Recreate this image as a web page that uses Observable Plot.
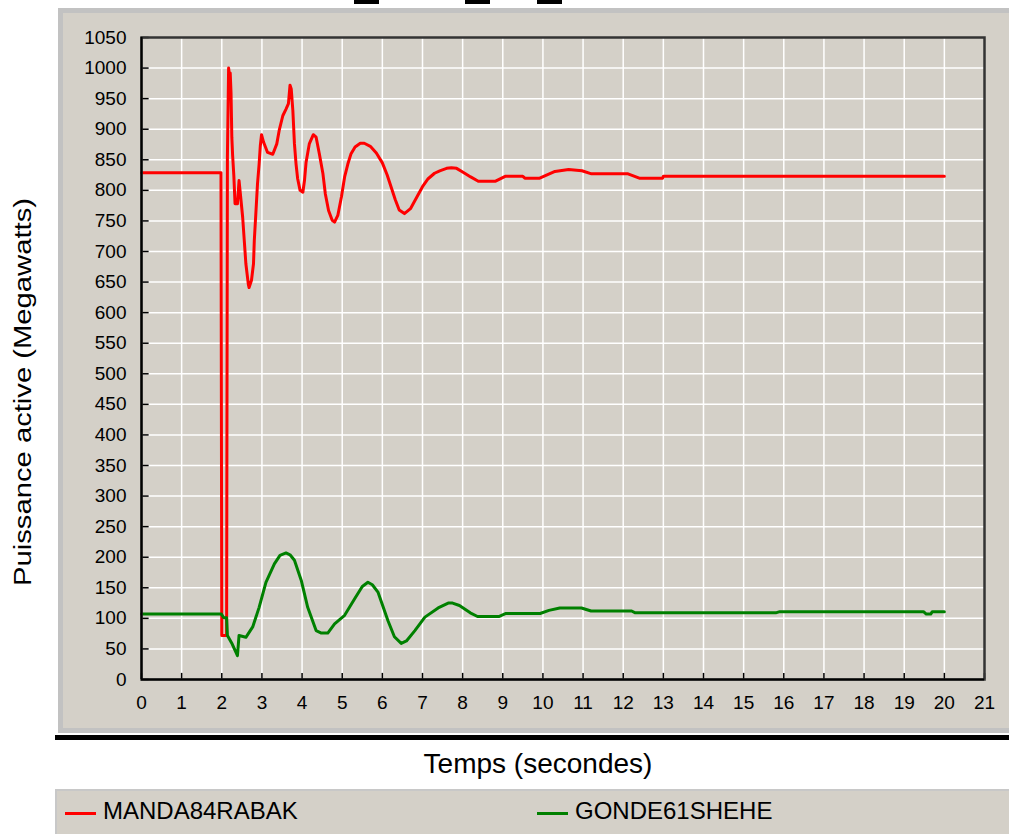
<!DOCTYPE html>
<html>
<head>
<meta charset="utf-8">
<script src="https://cdn.jsdelivr.net/npm/d3@7"></script>
<script src="https://cdn.jsdelivr.net/npm/@observablehq/plot@0.6"></script>
<style>
  html, body { margin: 0; padding: 0; background: #ffffff; }
  body { width: 1009px; height: 834px; position: relative; overflow: hidden; font-family: "Liberation Sans", Arial, sans-serif; color: #000; }
  .dash { position: absolute; top: 0; height: 4px; background: #000; }
  #panel { position: absolute; left: 58px; top: 8px; border-left: 5px solid #c2c2c2; border-top: 5px solid #c2c2c2; border-bottom: 5px solid #c2c2c2; background: #d4d0c8; }
  #panel svg { display: block; }
  #blackline { position: absolute; left: 55px; top: 735px; width: 954px; height: 5px; background: #000; }
  #ytitle { position: absolute; left: 23px; top: 392px; font-size: 23px; line-height: 23px; white-space: nowrap; transform: translate(-50%, -50%) rotate(-90deg) scale(1.27, 1); }
  #xtitle { position: absolute; left: 0; width: 1076px; top: 750px; font-size: 28px; line-height: 28px; text-align: center; white-space: nowrap; }
  #legend { position: absolute; left: 55px; top: 789px; width: 954px; height: 45px; background: #d4d0c8; border-top: 2px solid #c8c8c8; border-left: 2px solid #c8c8c8; box-sizing: border-box; }
  .sw { position: absolute; top: 21px; width: 31px; height: 3px; }
  .lt { position: absolute; top: 8px; font-size: 24px; line-height: 24px; white-space: nowrap; }
</style>
</head>
<body>
<div class="dash" style="left:354px;width:25px"></div>
<div class="dash" style="left:465px;width:25px"></div>
<div class="dash" style="left:537px;width:25px"></div>
<div id="ytitle">Puissance active (Megawatts)</div>
<div id="panel"></div>
<div id="blackline"></div>
<div id="xtitle">Temps (secondes)</div>
<div id="legend"></div>
<script>
// ---- Data ----
const seriesNames = ["MANDA84RABAK", "GONDE61SHEHE"];
const seriesColors = ["#ff0000", "#008000"];

const xTicks = [0,1,2,3,4,5,6,7,8,9,10,11,12,13,14,15,16,17,18,19,20,21];
const yTicks = [0,50,100,150,200,250,300,350,400,450,500,550,600,650,700,750,800,850,900,950,1000,1050];

// MANDA84RABAK (red)
const mandaT = [0, 1.98, 2.0, 2.12, 2.14, 2.17, 2.19, 2.21, 2.23, 2.25, 2.27, 2.3, 2.33, 2.39, 2.43, 2.48, 2.52, 2.56, 2.6, 2.66, 2.68, 2.74, 2.79, 2.81, 2.85, 2.89, 2.93, 2.96, 2.99, 3.04, 3.14, 3.27, 3.37, 3.43, 3.52, 3.6, 3.66, 3.7, 3.73, 3.77, 3.81, 3.85, 3.89, 3.95, 4.02, 4.06, 4.1, 4.18, 4.28, 4.35, 4.43, 4.52, 4.58, 4.66, 4.75, 4.81, 4.89, 4.98, 5.06, 5.14, 5.22, 5.32, 5.45, 5.55, 5.7, 5.85, 6.0, 6.12, 6.22, 6.32, 6.42, 6.55, 6.7, 6.86, 7.0, 7.14, 7.3, 7.43, 7.6, 7.72, 7.85, 8.0, 8.2, 8.39, 8.82, 9.06, 9.5, 9.55, 9.92, 10.3, 10.64, 10.97, 11.21, 12.12, 12.4, 12.98, 13.0, 20.0];
const mandaV = [829, 829, 72, 72, 854, 1000, 990, 992, 960, 887, 857, 824, 778, 778, 816, 783, 756, 718, 680, 647, 641, 653, 680, 718, 764, 811, 843, 873, 891, 879, 862, 859, 876, 898, 922, 933, 942, 972, 966, 931, 876, 843, 819, 800, 797, 816, 846, 876, 891, 887, 860, 827, 794, 767, 751, 748, 759, 789, 822, 843, 860, 871, 877, 877, 872, 861, 845, 825, 805, 785, 768, 762, 770, 789, 806, 819, 828, 832, 836, 837, 836, 830, 822, 815, 815, 823, 823, 820, 820, 831, 834, 832, 827, 827, 820, 820, 823, 823];

// GONDE61SHEHE (green)
const gondeT = [0, 1.99, 2.05, 2.12, 2.14, 2.26, 2.39, 2.43, 2.6, 2.77, 2.93, 3.1, 3.31, 3.45, 3.6, 3.7, 3.81, 3.98, 4.14, 4.35, 4.48, 4.64, 4.81, 5.06, 5.31, 5.5, 5.64, 5.75, 5.89, 6.14, 6.3, 6.47, 6.6, 6.81, 7.06, 7.39, 7.64, 7.75, 7.92, 8.19, 8.37, 8.9, 9.08, 9.93, 10.15, 10.42, 10.96, 11.2, 12.21, 12.3, 15.8, 15.9, 19.48, 19.55, 19.66, 19.7, 20.0];
const gondeV = [107, 107, 101, 101, 72, 58, 39, 72, 69, 86, 118, 159, 189, 203, 207, 204, 195, 162, 118, 80, 76, 76, 91, 105, 132, 152, 159, 155, 143, 96, 70, 59, 63, 80, 102, 117, 125, 125, 121, 109, 103, 103, 108, 108, 113, 117, 117, 112, 112, 109, 109, 111, 111, 107, 107, 111, 111];

const manda = mandaT.map((t, i) => ({t, v: mandaV[i]}));
const gonde = gondeT.map((t, i) => ({t, v: gondeV[i]}));

const chart = Plot.plot({
  width: 946,
  height: 715,
  marginLeft: 78,
  marginRight: 25,
  marginTop: 24,
  marginBottom: 49,
  x: {domain: [0, 21], ticks: xTicks, tickSize: 0, tickPadding: 16, tickFormat: d => String(d), label: null},
  y: {domain: [0, 1050], ticks: yTicks, tickSize: 0, tickPadding: 15, tickFormat: d => String(d), label: null},
  style: {background: "#d4d0c8", fontFamily: "'Liberation Sans', Arial, sans-serif", fontSize: "19px", color: "#000", overflow: "visible"},
  marks: [
    Plot.ruleX(xTicks.slice(1, -1), {stroke: "#ffffff", strokeWidth: 1.5}),
    Plot.ruleY(yTicks.slice(1, -1), {stroke: "#ffffff", strokeWidth: 1.5}),
    Plot.ruleY(yTicks, {x1: 0, x2: 0.19, stroke: "#000", strokeWidth: 1.5}),
    Plot.ruleX(xTicks, {y1: 0, y2: 10, stroke: "#000", strokeWidth: 1.5}),
    Plot.line(manda, {x: "t", y: "v", stroke: seriesColors[0], strokeWidth: 3}),
    Plot.line(gonde, {x: "t", y: "v", stroke: seriesColors[1], strokeWidth: 3}),
    Plot.frame({stroke: "#333333", strokeWidth: 2.5}),
    Plot.ruleX([0], {stroke: "#000", strokeWidth: 2}),
    Plot.ruleY([0], {stroke: "#000", strokeWidth: 2})
  ]
});
document.getElementById("panel").appendChild(chart);

// Legend
const legend = document.getElementById("legend");
const legendX = [[8, 46], [480, 518]];
seriesNames.forEach((name, i) => {
  const sw = document.createElement("div");
  sw.className = "sw";
  sw.style.left = legendX[i][0] + "px";
  sw.style.background = seriesColors[i];
  legend.appendChild(sw);
  const lt = document.createElement("div");
  lt.className = "lt";
  lt.style.left = legendX[i][1] + "px";
  lt.textContent = name;
  legend.appendChild(lt);
});
</script>
</body>
</html>
